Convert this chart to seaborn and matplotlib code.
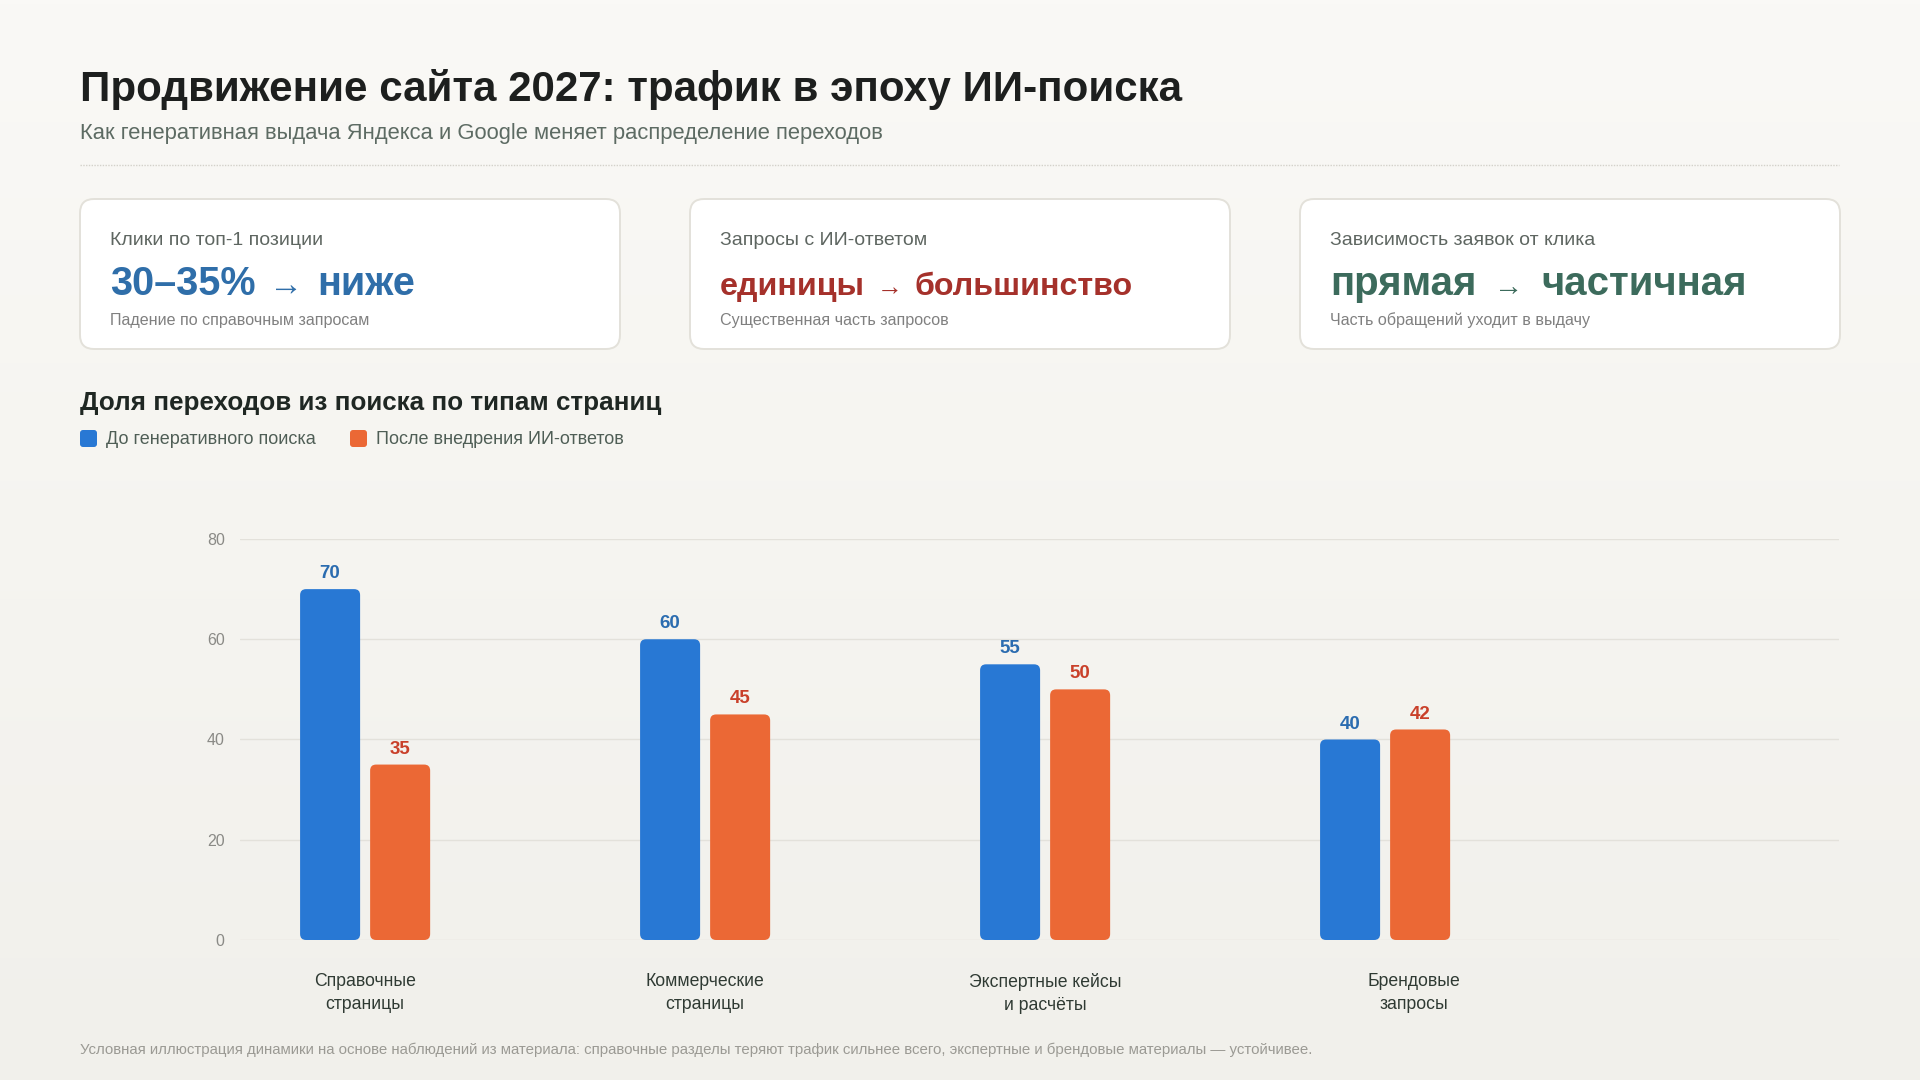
import numpy as np
import pandas as pd
import matplotlib
matplotlib.use("Agg")
import matplotlib.pyplot as plt
from matplotlib.patches import FancyBboxPatch
from matplotlib.lines import Line2D
from matplotlib.colors import LinearSegmentedColormap
from matplotlib.transforms import ScaledTranslation
import seaborn as sns

# ---------------- data ----------------
categories = ["Справочные\nстраницы", "Коммерческие\nстраницы",
              "Экспертные кейсы\nи расчёты", "Брендовые\nзапросы"]
series_names = ["До генеративного поиска", "После внедрения ИИ-ответов"]
before_values = [70, 60, 55, 40]
after_values = [35, 45, 50, 42]
y_ticks = [0, 20, 40, 60, 80]

title = "Продвижение сайта 2027: трафик в эпоху ИИ-поиска"
subtitle = "Как генеративная выдача Яндекса и Google меняет распределение переходов"
chart_title = "Доля переходов из поиска по типам страниц"
footnote = ("Условная иллюстрация динамики на основе наблюдений из материала: справочные разделы "
            "теряют трафик сильнее всего, экспертные и брендовые материалы — устойчивее.")
card_labels = ["Клики по топ-1 позиции", "Запросы с ИИ-ответом", "Зависимость заявок от клика"]
card_from = ["30–35%", "единицы", "прямая"]
card_to = ["ниже", "большинство", "частичная"]
card_notes = ["Падение по справочным запросам", "Существенная часть запросов",
              "Часть обращений уходит в выдачу"]

# ---------------- style ----------------
BLUE, ORANGE = "#2878d4", "#eb6835"
BLUE_LBL, ORANGE_LBL = "#2b6cb0", "#c9402a"
card_colors = ["#2f6ea9", "#a5312b", "#3c6b5c"]
card_sizes = [28.5, 23.2, 29.0]
arrow_sizes = [24.5, 18.5, 21.0]
arrow_gaps = [14, 12, 18]

sns.set_theme(style="white")
plt.rcParams["font.family"] = ["Liberation Sans", "DejaVu Sans"]

W, H = 1920, 1080
fig = plt.figure(figsize=(19.2, 10.8), dpi=100)

bg = fig.add_axes([0, 0, 1, 1])
grad = np.linspace(0, 1, 256).reshape(-1, 1)
cmap = LinearSegmentedColormap.from_list("bg", ["#faf9f6", "#f1f0eb"])
bg.imshow(grad, extent=[0, W, H, 0], cmap=cmap, aspect="auto", zorder=0)
bg.set_xlim(0, W)
bg.set_ylim(H, 0)
bg.axis("off")

# titles
bg.text(80, 101, title, fontsize=30.3, weight="bold", color="#1d1f1e", va="baseline")
bg.text(80, 139, subtitle, fontsize=15.8, color="#5d6b63", va="baseline")
bg.add_line(Line2D([80, 1839], [165, 165], color="#d3d1ca", lw=1.0, linestyle=(0, (1, 1))))

# cards
renderer = fig.canvas.get_renderer()
card_x = [80, 690, 1300]
for i, cx in enumerate(card_x):
    bg.add_patch(FancyBboxPatch((cx, 199), 540, 150,
                                boxstyle="round,pad=0,rounding_size=14",
                                fc="white", ec="#e3e1da", lw=1.4, zorder=2))
    bg.text(cx + 30, 245, card_labels[i], fontsize=14, color="#5e6661", va="baseline", zorder=3)
    bg.text(cx + 30, 325, card_notes[i], fontsize=11.6, color="#808080", va="baseline", zorder=3)
    col = card_colors[i]
    x = cx + 30
    parts = [(card_from[i], card_sizes[i], "bold"), ("→", arrow_sizes[i], "normal"),
             (card_to[i], card_sizes[i], "bold")]
    for txt, fs, wt in parts:
        t = bg.text(x, 295, txt, fontsize=fs, weight=wt, color=col, va="baseline", zorder=3)
        bb = t.get_window_extent(renderer)
        x = bg.transData.inverted().transform((bb.x1, bb.y0))[0] + arrow_gaps[i]

# chart title + legend
bg.text(80, 410, chart_title, fontsize=18.7, weight="bold", color="#1f2723", va="baseline")
for lx, name, col in [(80, series_names[0], BLUE), (350, series_names[1], ORANGE)]:
    bg.add_patch(FancyBboxPatch((lx, 430), 17, 17, boxstyle="round,pad=0,rounding_size=3",
                                fc=col, ec="none", zorder=2))
    bg.text(lx + 26, 439, name, fontsize=13, color="#4f5e56", va="center")

# footnote
bg.text(80, 1050, footnote, fontsize=10.8, color="#9b9a94", va="center")

# ---------------- bar chart ----------------
df = pd.DataFrame({
    "category": categories * 2,
    "period": [series_names[0]] * len(categories) + [series_names[1]] * len(categories),
    "value": before_values + after_values,
})

ax = fig.add_axes([240 / W, 1 - 940 / H, (1839 - 240) / W, (940 - 539) / H])
ax.patch.set_alpha(0)
sns.barplot(data=df, x="category", y="value", hue="period", hue_order=series_names,
            palette=[BLUE, ORANGE], width=0.412, gap=0.143, saturation=1,
            legend=False, ax=ax, zorder=3)
ax.set_xlim(-0.368, 4.335)
ax.set_ylim(0, 80)
ax.set_yticks(y_ticks)
ax.set_yticklabels([str(v) for v in y_ticks])
ax.grid(axis="y", color="#e3e1db", lw=1)
ax.grid(axis="x", visible=False)
ax.set_axisbelow(True)
for s in ax.spines.values():
    s.set_visible(False)
ax.set_xlabel("")
ax.set_ylabel("")
ax.tick_params(axis="y", length=0, pad=11, labelsize=11.5, labelcolor="#8a8a86")
ax.tick_params(axis="x", length=0, pad=24, labelsize=12.7, labelcolor="#2f3a33")
ax.set_xticks(range(len(categories)))
ax.set_xticklabels(categories, linespacing=1.4)
# the last category label sits slightly right of its bars in the reference
last = ax.get_xticklabels()[-1]
last.set_transform(last.get_transform() + ScaledTranslation(0.29, 0, fig.dpi_scale_trans))

# value labels
for cont, lc in zip(ax.containers, [BLUE_LBL, ORANGE_LBL]):
    ax.bar_label(cont, padding=5, fontsize=13.5, weight="bold", color=lc)

# rounded bars
p0 = ax.transData.transform((0, 0))
p1 = ax.transData.transform((1, 1))
px_x, px_y = p1[0] - p0[0], p1[1] - p0[1]
r = 6 / px_x
asp = px_x / px_y
for cont in ax.containers:
    for rect in cont:
        x0, y0 = rect.get_xy()
        fb = FancyBboxPatch((x0, y0), rect.get_width(), rect.get_height(),
                            boxstyle=f"round,pad=0,rounding_size={r}",
                            mutation_aspect=asp, fc=rect.get_facecolor(), ec="none", zorder=3)
        ax.add_patch(fb)
        rect.set_visible(False)

fig.savefig("out.png", dpi=100)
